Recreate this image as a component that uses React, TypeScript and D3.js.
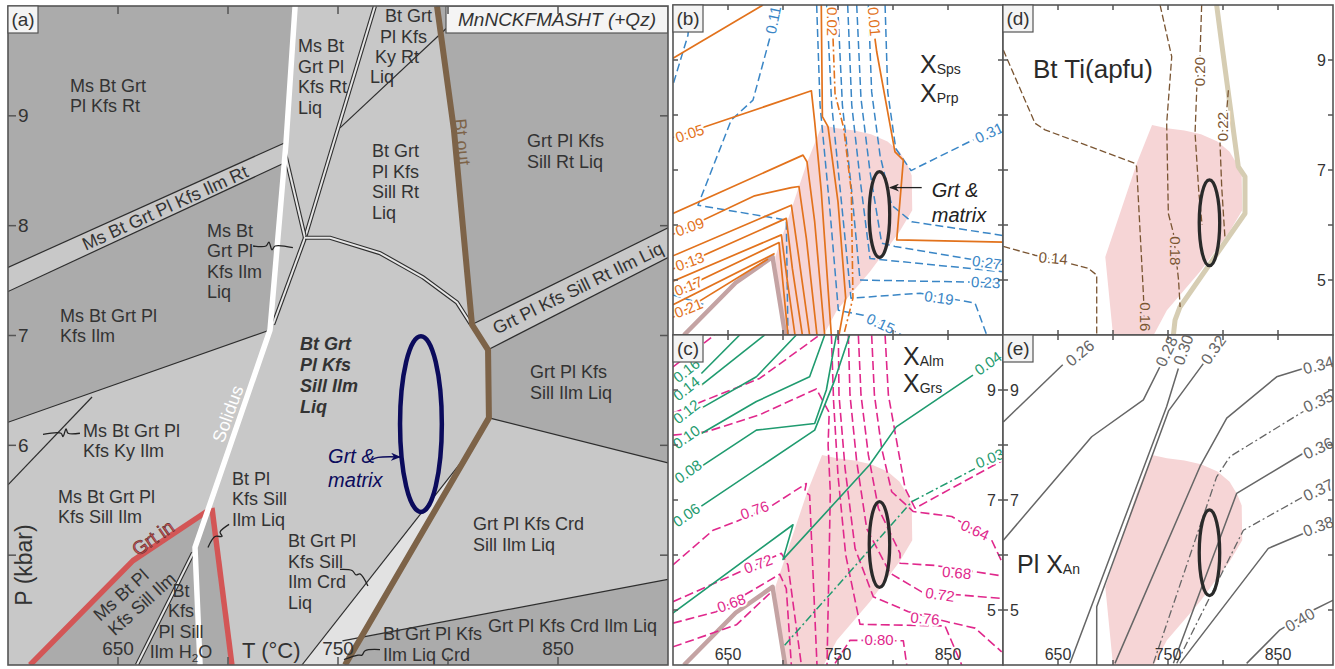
import React from "react";
import * as d3 from "d3";

type Pt = [number, number];
type Iso = { v: string; pts: Pt[]; lab?: [number, number, number] };
type Lbl = { lines: string[]; T: number; P: number };
type RLbl = { text: string; T: number; P: number; angle: number };

// ---------------- axes ----------------
const T_RANGE: [number, number] = [600, 900];
const P_RANGE: [number, number] = [4, 10];
const T_TICKS = [650, 700, 750, 800, 850];
const T_LABELS = [650, 750, 850];
const P_TICKS = [5, 6, 7, 8, 9];
const P_LABELS_A = [6, 7, 8, 9];
const P_LABELS_SMALL = [5, 7, 9];

// ---------------- panel (a): pseudosection ----------------
const solidus: Pt[] = [[730.5, 10], [726.4, 8.76], [719.1, 7.05], [685, 5.07], [687.3, 4.0]];
const grtInLow: Pt[] = [[610, 4.0], [656.8, 4.95], [690.5, 5.4]];
const grtInHigh: Pt[] = [[692.7, 5.43], [701.8, 4.0]];
const btOutA: Pt[] = [[795, 10], [802.7, 8.87], [810.9, 7.1], [818.2, 6.87], [818.6, 6.25], [753.2, 4.0]];
const darkFields: Pt[][] = [
  [[600, 10], [730.5, 10], [726.4, 8.76], [600, 7.62]],
  [[600, 7.4], [725.6, 8.57], [719.1, 7.05], [600, 6.21]],
  [[610, 4.0], [656.8, 4.95], [690.8, 5.4], [692.7, 5.43], [701.8, 4.0]],
  [[795, 10], [900, 10], [900, 7.98], [810.9, 7.1], [802.7, 8.87]],
  [[818.2, 6.87], [900, 7.71], [900, 5.84], [818.6, 6.25]],
  [[755, 4.23], [900, 4.78], [900, 4.0], [753.2, 4.0]],
];
const paleFields: Pt[][] = [[[733.6, 4.0], [808.5, 5.91], [753.2, 4.0]]];
const reactionLines: Pt[][] = [
  [[600, 7.62], [726.4, 8.76]],
  [[600, 7.4], [725.6, 8.57]],
  [[600, 6.21], [719.1, 7.05]],
  [[600, 5.64], [638.2, 6.44]],
  [[810.9, 7.1], [900, 7.98]],
  [[818.2, 6.87], [900, 7.71]],
  [[818.6, 6.25], [900, 5.84]],
  [[752, 4.22], [900, 4.78]],
  [[733.6, 4.0], [808.5, 5.91]],
  [[803.2, 9.87], [750.9, 8.89]],
];
const doubleLines: Pt[][] = [
  [[766.8, 10], [735, 7.89]],
  [[735, 7.89], [720.5, 7.1]],
  [[725.9, 8.66], [735, 7.89]],
  [[735, 7.89], [746.4, 7.89], [769.1, 7.75], [788.6, 7.53], [804.1, 7.3], [810.5, 7.1]],
  [[658.6, 4.0], [684.1, 5.02]],
];
const leadersA: Pt[][] = [
  [[711.4, 7.815], [717.3, 7.815], [718.6, 7.85], [720, 7.78], [721.4, 7.815], [729.5, 7.8]],
  [[632.7, 6.11], [627.3, 6.11], [626.4, 6.15], [625, 6.08], [624.1, 6.11], [615.9, 6.1]],
  [[700.5, 5.28], [696.4, 5.21], [697.3, 5.17], [694.1, 5.17], [690.9, 5.07]],
  [[750.9, 4.87], [756.4, 4.86], [758.2, 4.82], [760, 4.83], [763.6, 4.72]],
  [[769.1, 4.14], [762.3, 4.13], [760.9, 4.09], [759.1, 4.09], [752.7, 4.05]],
];
const arrowA: Pt[] = [[765.5, 5.87], [768.2, 5.89], [778.2, 5.894]];
const ellipseA = { T: 787.7, P: 6.194, rT: 9.5, rP: 0.8 };

const fieldLabelsA: Lbl[] = [
  { lines: ["Ms Bt Grt", "Pl Kfs Rt"], T: 628.2, P: 9.217 },
  { lines: ["Ms Bt", "Grt Pl", "Kfs Ilm", "Liq"], T: 690.5, P: 7.9 },
  { lines: ["Ms Bt Grt Pl", "Kfs Ilm"], T: 623.6, P: 7.123 },
  { lines: ["Ms Bt Grt Pl", "Kfs Ky Ilm"], T: 634.1, P: 6.08 },
  { lines: ["Ms Bt Grt Pl", "Kfs Sill Ilm"], T: 622.7, P: 5.475 },
  { lines: ["Bt Pl", "Kfs Sill", "Ilm Liq"], T: 701.8, P: 5.639 },
  { lines: ["Bt Grt Pl", "Kfs Sill", "Ilm Crd", "Liq"], T: 727.3, P: 5.074 },
  { lines: ["Grt Pl Kfs", "Sill Ilm Liq"], T: 837.3, P: 6.613 },
  { lines: ["Grt Pl Kfs Crd", "Sill Ilm Liq"], T: 811.4, P: 5.229 },
  { lines: ["Grt Pl Kfs Crd Ilm Liq"], T: 818.2, P: 4.3 },
  { lines: ["Bt Grt Pl Kfs", "Ilm Liq Crd"], T: 770.5, P: 4.227 },
  { lines: ["Grt Pl Kfs", "Sill Rt Liq"], T: 835.9, P: 8.716 },
  { lines: ["Bt Grt", "Pl Kfs", "Sill Rt", "Liq"], T: 765.5, P: 8.625 },
  { lines: ["Ms Bt", "Grt Pl", "Kfs Rt", "Liq"], T: 731.8, P: 9.58 },
  { lines: ["Bt Grt"], T: 771.4, P: 9.854 },
  { lines: ["Pl Kfs"], T: 769.1, P: 9.663 },
  { lines: ["Ky Rt"], T: 766.8, P: 9.481 },
  { lines: ["Liq"], T: 764.5, P: 9.3 },
];
const boldLabelA: Lbl = { lines: ["Bt Grt", "Pl Kfs", "Sill Ilm", "Liq"], T: 732.7, P: 6.868 };
const midLabelA: Lbl = { lines: ["Bt", "Kfs", "Pl Sill", "Ilm H_2O"], T: 678.6, P: 4.619 };
const matrixLabelA: Lbl = { lines: ["Grt &", "matrix"], T: 745.5, P: 5.839 };
const rotLabelsA: RLbl[] = [
  { text: "Ms Bt Grt Pl Kfs Ilm Rt", T: 671.4, P: 8.16, angle: -24.5 },
  { text: "Grt Pl Kfs Sill Rt Ilm Liq", T: 859.1, P: 7.43, angle: -26 },
  { text: "Ms Bt Pl", T: 651.4, P: 4.637, angle: -42 },
  { text: "Kfs Sill Ilm", T: 660.9, P: 4.555, angle: -42 },
];
const solidusLabel: RLbl = { text: "Solidus", T: 700, P: 6.285, angle: -70 };
const grtInLabel: RLbl = { text: "Grt in", T: 665.9, P: 5.156, angle: -35 };
const btOutLabel: RLbl = { text: "Bt out", T: 806.4, P: 8.762, angle: 84 };

// ---------------- common small-panel features ----------------
const pinkField: Pt[] = [
  [700, 4.0], [693, 5.42], [721.8, 7.13], [735.5, 7.82], [749, 7.76], [765, 7.72], [780, 7.65],
  [795, 7.52], [806, 7.33], [813, 7.1], [817, 6.9], [817.5, 6.27], [806, 5.88], [779, 5.15],
  [749, 4.45], [737, 4.0],
];
const grtInSmall: Pt[] = [[610, 4.0], [657, 4.95], [690.5, 5.42], [702, 4.0]];
const ellipseUpper = { T: 787.7, P: 6.19, rT: 9.3, rP: 0.78 };
const ellipseLower = { T: 787.7, P: 6.04, rT: 9.3, rP: 0.78 };

// ---------------- panel (b): X Sps (solid / dash-dot) and X Prp (dashed) ----------------
const spsIso: Iso[] = [
  { v: "", pts: [[600, 9.03], [681.8, 10]] },
  { v: "0.05", pts: [[600, 7.59], [725.8, 8.44], [728.8, 7.88], [734.8, 6.61], [743.9, 4.0]], lab: [615.2, 7.67, -18] },
  { v: "", pts: [[600, 6.21], [718.2, 7.27], [721.8, 7.15], [728.8, 6.06], [737.9, 4.0]] },
  { v: "0.09", pts: [[600, 5.83], [674.2, 6.53], [707.6, 6.68], [714.5, 6.7], [721.2, 5.76], [730.9, 4.0]], lab: [615.2, 5.97, -20] },
  { v: "", pts: [[600, 5.44], [707.6, 6.36], [713.6, 5.52], [724.2, 4.0]] },
  { v: "0.13", pts: [[600, 5.2], [703, 6.12], [708.5, 5.21], [717.6, 4.0]], lab: [615.2, 5.34, -20] },
  { v: "", pts: [[600, 4.98], [698.5, 5.82], [703.6, 5.03], [710.9, 4.0]] },
  { v: "0.17", pts: [[600, 4.76], [696.4, 5.68], [704.5, 4.0]], lab: [614, 4.89, -22] },
  { v: "", pts: [[600, 4.55], [692.4, 5.48]] },
  { v: "0.21", pts: [[600, 4.32], [686.4, 5.38]], lab: [614, 4.49, -22] },
  { v: "", pts: [[734.8, 10], [735.8, 7.97], [740.9, 7.79], [750, 6.42], [757, 4.67], [750.9, 4.0]] },
  { v: "0.01", pts: [[783.6, 9.39], [785.2, 9.15], [801.8, 7.33], [809.4, 7.18], [803.4, 5.73], [900, 5.69]], lab: [783.1, 9.7, 85] },
];
const spsDashDot: Iso[] = [
  { v: "0.02", pts: [[745.5, 9.39], [747.3, 8.39], [755.2, 7.76], [762.1, 6.61], [763.6, 4.67], [755.2, 4.0]], lab: [744.8, 9.7, 90] },
];
const prpIso: Iso[] = [
  { v: "", pts: [[615.8, 10], [613.6, 9.45], [600, 8.55]] },
  { v: "0.11", pts: [[687.9, 9.39], [672.7, 8.27], [653, 7.91], [622.7, 6.36], [703, 6.09], [704.5, 4.0]], lab: [690.9, 9.73, -78] },
  { v: "", pts: [[600, 4.73], [628.8, 4.55]] },
  { v: "0.31", pts: [[792.8, 10], [795.2, 8.42], [802.5, 7.39], [816.4, 6.99], [873.1, 7.55]], lab: [887.3, 7.68, -25] },
  { v: "", pts: [[777.6, 10], [780.6, 8.42], [788.2, 7.27], [798.8, 6.36], [817, 6.06], [900, 5.81]] },
  { v: "0.27", pts: [[767, 10], [770.9, 8.3], [779.1, 6.97], [789.7, 5.67], [801.8, 5.61], [900, 5.28]], lab: [885.2, 5.32, 8] },
  { v: "", pts: [[758.8, 10], [762.5, 8.18], [770, 6.85], [779.1, 5.39], [900, 5.15]] },
  { v: "0.23", pts: [[749.7, 10], [754, 8.18], [762.5, 6.61], [770, 5.0], [900, 4.95]], lab: [884.3, 4.96, 3] },
  { v: "0.19", pts: [[739.7, 10], [744.3, 8.18], [753.4, 6.36], [761.8, 4.67], [824.6, 4.76], [874.6, 4.58], [885.2, 4.0]], lab: [841.8, 4.68, 8] },
  { v: "0.15", pts: [[730.6, 10], [733.7, 8.18], [742.8, 6.24], [750.3, 4.45], [773, 4.36], [807.9, 4.0]], lab: [788.8, 4.21, 25] },
];
const arrowB: Pt[] = [[826.1, 6.68], [797.3, 6.68]];
const matrixLabelB: Lbl = { lines: ["Grt &", "matrix"], T: 835.2, P: 6.515 };

// ---------------- panel (c): X Alm (dashed) and X Grs (solid / dash-dot) ----------------
const grsIso: Iso[] = [
  { v: "0.16", pts: [[625.8, 9.3], [660.6, 10.0]], lab: [612.1, 9.36, -38] },
  { v: "0.14", pts: [[625.8, 9.09], [683.3, 10.0]], lab: [612.1, 9.03, -38] },
  { v: "0.12", pts: [[625.8, 8.67], [675.8, 9.24], [712.1, 10.0]], lab: [612.1, 8.61, -38] },
  { v: "0.10", pts: [[625.8, 8.21], [675.8, 8.79], [724.2, 9.24], [737.9, 10.0]], lab: [612.1, 8.15, -35] },
  { v: "0.08", pts: [[625.8, 7.61], [675.8, 8.27], [728.8, 8.39], [739.4, 9.0], [748.5, 10.0]], lab: [613.6, 7.52, -35] },
  { v: "0.06", pts: [[625.8, 6.89], [728.8, 8.27], [747, 9.18], [760.6, 10.0]], lab: [612.1, 6.73, -35] },
  { v: "0.04", pts: [[595.5, 4.88], [709.1, 6.55], [700, 5.92], [778.8, 7.64], [803, 8.33], [872.7, 9.27]], lab: [886.4, 9.49, -35] },
];
const grsDashDot: Iso[] = [
  { v: "0.03", pts: [[701.5, 4.36], [747.3, 5.39], [817, 6.97], [874.5, 7.57]], lab: [887.9, 7.76, -22] },
];
const almIso: Iso[] = [
  { v: "", pts: [[600, 9.42], [637.9, 10]] },
  { v: "", pts: [[600, 8.58], [678.8, 9.21], [733.3, 10.0]] },
  { v: "", pts: [[600, 8.18], [630.3, 8.24], [678.8, 8.55], [730.3, 9.02], [742, 8.59], [741, 8.0], [743, 7.15], [742, 6.0], [740, 4.0]] },
  { v: "0.76", pts: [[600, 5.82], [636.4, 6.45], [657.6, 6.61], [690.9, 6.91], [721.2, 7.3], [719.7, 7.15], [724.2, 7.09], [730.9, 4.0]], lab: [674.2, 6.82, -20] },
  { v: "0.72", pts: [[600, 5.15], [698.5, 6.03], [704.5, 5.82], [716.7, 4.0]], lab: [677.3, 5.84, -20] },
  { v: "0.68", pts: [[600, 4.76], [639.4, 4.97], [697, 5.65], [703, 5.39], [707.6, 4.0]], lab: [653, 5.13, -20] },
  { v: "", pts: [[600, 4.33], [657.6, 4.73], [687.9, 5.3]] },
  { v: "", pts: [[792.8, 10], [795.8, 8.91], [803.4, 8.06], [811, 7.21], [820, 6.85], [898.8, 7.71]] },
  { v: "0.64", pts: [[780.6, 10], [783.1, 8.91], [789.7, 7.94], [798.8, 7.15], [818.5, 6.79], [853.4, 6.7], [889.7, 6.27], [900.3, 5.82]], lab: [874.6, 6.455, 25] },
  { v: "0.68", pts: [[768.5, 10], [770.9, 8.91], [777.6, 7.82], [786.7, 6.85], [806.4, 6.03], [806.4, 5.85], [838.2, 5.81], [898.8, 5.62]], lab: [857.9, 5.68, 5] },
  { v: "0.72", pts: [[759.4, 10], [760.9, 8.91], [767, 7.7], [776.1, 6.48], [797.3, 5.67], [826.1, 5.33], [898.8, 5.21]], lab: [842.8, 5.285, 8] },
  { v: "0.76", pts: [[750.3, 10], [750.9, 8.91], [756.4, 7.58], [765.5, 6.12], [782.1, 5.24], [814, 4.97], [850.3, 4.78], [874.6, 4.67], [898.8, 4.24]], lab: [829.1, 4.85, 5] },
  { v: "", pts: [[744, 10], [746, 8.79], [750, 7.45], [757, 6.0], [770, 4.74], [847.3, 4.71], [862.5, 4.0]] },
  { v: "0.80", pts: [[747.3, 4.03], [760.9, 4.45], [809.4, 4.44], [812.5, 4.0]], lab: [787.3, 4.47, 0] },
];

// ---------------- panel (d): Bt Ti (apfu) ----------------
const btTiIso: Iso[] = [
  { v: "0.14", pts: [[600.3, 5.61], [629.1, 5.45], [660.9, 5.3], [677.6, 5.21], [685.2, 5.09], [685.2, 4.0]], lab: [645.8, 5.4, 5] },
  { v: "0.16", pts: [[600.3, 9.18], [629.1, 7.85], [638.2, 7.73], [720, 7.12], [721.5, 7.06], [727.6, 4.76], [729.1, 4.0]], lab: [729.1, 4.33, 90] },
  { v: "0.18", pts: [[742.8, 10], [753.4, 9.06], [748.8, 7.85], [750.3, 6.21], [754.9, 5.85], [759.6, 5.0], [761, 4.51]], lab: [757, 5.53, 90] },
  { v: "0.20", pts: [[780.6, 10], [779.1, 9.09], [776.1, 8.45], [774.6, 7.67], [778, 6.6], [781, 6.0]], lab: [778.2, 8.79, -90] },
  { v: "0.22", pts: [[804.9, 8.45], [803.4, 8.09], [797.3, 7.48], [798.8, 6.7], [801.8, 5.76]], lab: [799.7, 7.79, -90] },
];
const btOutD: Pt[] = [[794.2, 10], [798.8, 9.3], [813.9, 7.06], [820, 6.88], [820, 6.21], [760.9, 4.51], [756.4, 4.27], [754.9, 4.0]];

// ---------------- panel (e): Pl X An ----------------
const anIso: Iso[] = [
  { v: "0.26", pts: [[600.3, 8.42], [654.3, 9.46]], lab: [670, 9.67, -40] },
  { v: "0.28", pts: [[600.3, 6.27], [680.6, 8.15], [727.6, 8.82], [745.8, 9.55]], lab: [748.8, 9.7, -65] },
  { v: "0.30", pts: [[759.4, 9.39], [748.8, 8.7], [660.9, 4.03]], lab: [764, 9.73, -70] },
  { v: "0.32", pts: [[782.1, 9.48], [750.5, 8.62], [685.2, 5.06], [685.2, 4.0]], lab: [791.2, 9.73, -55] },
  { v: "0.34", pts: [[701.8, 4.03], [779.1, 7.61], [803.4, 8.49], [848.8, 9.24], [873.1, 9.39]], lab: [886.7, 9.45, -15] },
  { v: "0.36", pts: [[754.9, 4.03], [812.4, 7.12], [873.1, 7.85]], lab: [886.7, 7.94, -25] },
  { v: "0.38", pts: [[760.9, 4.03], [841.2, 6.12], [873.1, 6.39]], lab: [886.7, 6.52, -20] },
  { v: "0.40", pts: [[821.5, 4.03], [851.8, 4.64], [882.1, 5.0], [900.3, 5.18]], lab: [870, 4.82, -30] },
];
const anDashDot: Iso[] = [
  { v: "0.35", pts: [[736.7, 4.03], [794.2, 7.42], [806.4, 7.79], [873.1, 8.61]], lab: [886.7, 8.79, -25] },
  { v: "0.37", pts: [[757.9, 4.03], [818.5, 6.45], [873.1, 7.06]], lab: [886.7, 7.18, -25] },
];

// ---------------- styles ----------------
const FONT = "'Liberation Sans', Arial, Helvetica, sans-serif";
const TXT = "#333";
const FRAME = "#555";
const DARK = "#ababab";
const LIGHT = "#c8c8c8";
const PALE = "#e2e2e2";
const ORANGE = "#e2721c";
const BLUE = "#3a86c6";
const MAGENTA = "#e0288c";
const GREEN = "#1f9b6f";
const BROWN = "#7a5532";
const GRAYL = "#666";
const PINK = "#f6d5d6";
const NAVY = "#0b0b5c";

type Sc = d3.ScaleLinear<number, number>;

function renderLine(text: string, key: number, x: number, dy: number) {
  if (text.includes("_")) {
    const [a, rest] = text.split("_");
    return (
      <tspan key={key} x={x} dy={dy}>
        {a}
        <tspan fontSize="0.65em" dy={4}>{rest[0]}</tspan>
        <tspan dy={-4}>{rest.slice(1)}</tspan>
      </tspan>
    );
  }
  return (
    <tspan key={key} x={x} dy={dy}>
      {text}
    </tspan>
  );
}

function multi(l: Lbl, x: Sc, y: Sc, spacing: number, props: any, key?: any) {
  const px = x(l.T);
  const py = y(l.P);
  return (
    <text key={key} x={px} y={py} fontFamily={FONT} {...props}>
      {l.lines.map((s, i) => renderLine(s, i, px, i === 0 ? 0 : spacing))}
    </text>
  );
}

function rot(l: RLbl, x: Sc, y: Sc, props: any, key?: any) {
  const px = x(l.T);
  const py = y(l.P);
  return (
    <text key={key} x={px} y={py} transform={`rotate(${l.angle} ${px} ${py})`} textAnchor="middle"
      dominantBaseline="central" fontFamily={FONT} {...props}>
      {l.text}
    </text>
  );
}

function isoPaths(isos: Iso[], x: Sc, y: Sc, color: string, width: number, dash?: string) {
  const line = d3.line<Pt>().x((d) => x(d[0])).y((d) => y(d[1]));
  return isos.map((s, i) => (
    <path key={i} d={line(s.pts) || ""} fill="none" stroke={color} strokeWidth={width}
      strokeDasharray={dash} strokeLinejoin="round" />
  ));
}

function isoLabels(isos: Iso[], x: Sc, y: Sc, color: string, fs = 15) {
  return isos
    .filter((s) => s.lab)
    .map((s, i) => {
      const lab = s.lab as [number, number, number];
      const cx = x(lab[0]);
      const cy = y(lab[1]);
      const halo = d3.polygonContains(pinkField, [lab[0], lab[1]]) ? PINK : "#fff";
      return (
        <text key={i} x={cx} y={cy} transform={`rotate(${lab[2]} ${cx} ${cy})`} textAnchor="middle"
          dominantBaseline="central" fontSize={fs} fill={color} stroke={halo} strokeWidth={4}
          style={{ paintOrder: "stroke" }} fontFamily={FONT}>
          {s.v}
        </text>
      );
    });
}

function frameTicks(x: Sc, y: Sc, len: number, key: string) {
  const [x0, x1] = x.range();
  const [y1, y0] = y.range();
  const out: React.ReactNode[] = [];
  T_TICKS.forEach((t) => {
    out.push(<line key={key + "tb" + t} x1={x(t)} x2={x(t)} y1={y1} y2={y1 - len} stroke={FRAME} strokeWidth={1.5} />);
    out.push(<line key={key + "tt" + t} x1={x(t)} x2={x(t)} y1={y0} y2={y0 + len} stroke={FRAME} strokeWidth={1.5} />);
  });
  P_TICKS.forEach((p) => {
    out.push(<line key={key + "pl" + p} x1={x0} x2={x0 + len} y1={y(p)} y2={y(p)} stroke={FRAME} strokeWidth={1.5} />);
    out.push(<line key={key + "pr" + p} x1={x1} x2={x1 - len} y1={y(p)} y2={y(p)} stroke={FRAME} strokeWidth={1.5} />);
  });
  out.push(<rect key={key + "fr"} x={x0} y={y0} width={x1 - x0} height={y1 - y0} fill="none" stroke={FRAME} strokeWidth={1.6} />);
  return out;
}

function panelTag(label: string, x0: number, y0: number) {
  return (
    <g>
      <rect x={x0} y={y0} width={30} height={27} fill="#f4f4f4" stroke={FRAME} strokeWidth={1.2} />
      <text x={x0 + 15} y={y0 + 20} textAnchor="middle" fontSize={19} fill={TXT} fontFamily={FONT}>{label}</text>
    </g>
  );
}

function Ell({ e, x, y, stroke, width }: any) {
  return (
    <ellipse cx={x(e.T)} cy={y(e.P)} rx={Math.abs(x(e.T + e.rT) - x(e.T))} ry={Math.abs(y(e.P + e.rP) - y(e.P))}
      fill="none" stroke={stroke} strokeWidth={width} />
  );
}

export default function App() {
  const xa = d3.scaleLinear().domain(T_RANGE).range([8, 668]);
  const ya = d3.scaleLinear().domain(P_RANGE).range([665, 6]);
  const la = d3.line<Pt>().x((d) => xa(d[0])).y((d) => ya(d[1]));
  const laSmooth = d3.line<Pt>().x((d) => xa(d[0])).y((d) => ya(d[1])).curve(d3.curveCatmullRom);

  const small = (x0: number, y0: number) => {
    const x = d3.scaleLinear().domain(T_RANGE).range([x0, x0 + 330]);
    const y = d3.scaleLinear().domain(P_RANGE).range([y0 + 330, y0]);
    const line = d3.line<Pt>().x((d) => x(d[0])).y((d) => y(d[1]));
    return { x, y, line };
  };
  const B = small(673, 5);
  const C = small(673, 335);
  const D = small(1003, 5);
  const E = small(1003, 335);

  const smallBase = (S: any, grtIn: boolean) => (
    <g>
      <rect x={S.x(600)} y={S.y(10)} width={330} height={330} fill="#fff" />
      <path d={(S.line(pinkField) || "") + "Z"} fill={PINK} />
      {grtIn && <path d={S.line(grtInSmall) || ""} fill="none" stroke="#c4a3a3" strokeWidth={4.5} strokeLinejoin="round" />}
    </g>
  );

  const xText = (S: any, T: number, P: number, sub: string, key: string, fs = 25) => (
    <text key={key} x={S.x(T)} y={S.y(P)} fontSize={fs} fill="#2a2a2a" fontFamily={FONT}>
      X<tspan fontSize={14} dy={1}>{sub}</tspan>
    </text>
  );

  return (
    <svg width={1335} height={669} style={{ position: "absolute", left: 0, top: 0, background: "#fff" }}
      fontFamily={FONT}>
      <defs>
        <clipPath id="clipA"><rect x={8} y={6} width={660} height={659} /></clipPath>
        <clipPath id="clipB"><rect x={673} y={5} width={330} height={330} /></clipPath>
        <clipPath id="clipC"><rect x={673} y={335} width={330} height={330} /></clipPath>
        <clipPath id="clipD"><rect x={1003} y={5} width={330} height={330} /></clipPath>
        <clipPath id="clipE"><rect x={1003} y={335} width={330} height={330} /></clipPath>
        <marker id="arrNavy" markerWidth={10} markerHeight={8} refX={9} refY={4} orient="auto" markerUnits="userSpaceOnUse">
          <path d="M0,0 L10,4 L0,8 L3,4 Z" fill={NAVY} />
        </marker>
        <marker id="arrBlack" markerWidth={10} markerHeight={8} refX={9} refY={4} orient="auto" markerUnits="userSpaceOnUse">
          <path d="M0,0 L10,4 L0,8 L3,4 Z" fill="#222" />
        </marker>
      </defs>

      {/* ================= Panel (a) ================= */}
      <g clipPath="url(#clipA)">
        <rect x={8} y={6} width={660} height={659} fill={LIGHT} />
        {darkFields.map((f, i) => <path key={i} d={(la(f) || "") + "Z"} fill={DARK} />)}
        {paleFields.map((f, i) => <path key={i} d={(la(f) || "") + "Z"} fill={PALE} />)}
        {reactionLines.map((l, i) => <path key={i} d={la(l) || ""} fill="none" stroke="#2e2e2e" strokeWidth={1.2} />)}
        {doubleLines.map((l, i) => (
          <g key={i}>
            <path d={la(l) || ""} fill="none" stroke="#2e2e2e" strokeWidth={4.2} />
            <path d={la(l) || ""} fill="none" stroke="#e6e6e6" strokeWidth={2} />
          </g>
        ))}
        <path d={la(grtInLow) || ""} fill="none" stroke="#d35656" strokeWidth={5.5} strokeLinejoin="round" />
        <path d={la(grtInHigh) || ""} fill="none" stroke="#d35656" strokeWidth={5.5} />
        <path d={la(btOutA) || ""} fill="none" stroke="#7d6348" strokeWidth={6} strokeLinejoin="round" />
        <path d={la(solidus) || ""} fill="none" stroke="#fff" strokeWidth={5.5} strokeLinejoin="round" />
        <Ell e={ellipseA} x={xa} y={ya} stroke={NAVY} width={4.5} />
        {leadersA.map((l, i) => <path key={i} d={laSmooth(l) || ""} fill="none" stroke="#222" strokeWidth={1.3} />)}
        <path d={laSmooth(arrowA) || ""} fill="none" stroke={NAVY} strokeWidth={1.4} markerEnd="url(#arrNavy)" />

        {fieldLabelsA.map((l, i) => multi(l, xa, ya, 20.5, { fontSize: 18, fill: TXT }, "fl" + i))}
        {multi(boldLabelA, xa, ya, 21, { fontSize: 18, fill: TXT, fontWeight: "bold", fontStyle: "italic" })}
        {multi(midLabelA, xa, ya, 20.3, { fontSize: 18, fill: TXT, textAnchor: "middle" })}
        {multi(matrixLabelA, xa, ya, 24, { fontSize: 20, fill: NAVY, fontStyle: "italic" })}
        {rotLabelsA.map((l, i) => rot(l, xa, ya, { fontSize: 18, fill: TXT }, "rl" + i))}
        {rot(solidusLabel, xa, ya, { fontSize: 18, fill: "#fff" })}
        {rot(grtInLabel, xa, ya, { fontSize: 19, fill: "#d35656", stroke: "#5a2a2a", strokeWidth: 0.6 })}
        {rot(btOutLabel, xa, ya, { fontSize: 18, fill: "#7d6348" })}

        {T_LABELS.map((t) => (
          <text key={t} x={xa(t)} y={655} textAnchor="middle" fontSize={19} fill={TXT}>{t}</text>
        ))}
        {P_LABELS_A.map((p) => (
          <text key={p} x={18} y={ya(p)} dominantBaseline="central" fontSize={19} fill={TXT}>{p}</text>
        ))}
        <text x={242} y={658} fontSize={22} fill={TXT}>T (°C)</text>
        <text transform="translate(32,565) rotate(-90)" textAnchor="middle" fontSize={23} fill={TXT}>P (kbar)</text>
        <rect x={446} y={6} width={222} height={27} fill="#f4f4f4" stroke={FRAME} strokeWidth={1.2} />
        <text x={557} y={26} textAnchor="middle" fontSize={19} fontStyle="italic" fill={TXT}>MnNCKFMASHT (+Qz)</text>
      </g>
      {frameTicks(xa, ya, 8, "a")}
      {panelTag("(a)", 8, 6)}

      {/* ================= Panel (b) ================= */}
      <g clipPath="url(#clipB)">
        {smallBase(B, true)}
        {isoPaths(prpIso, B.x, B.y, BLUE, 1.5, "8 4")}
        {isoPaths(spsIso, B.x, B.y, ORANGE, 1.7)}
        {isoPaths(spsDashDot, B.x, B.y, ORANGE, 1.6, "8 3 2 3")}
        <Ell e={ellipseUpper} x={B.x} y={B.y} stroke="#2a2a2a" width={3.3} />
        <path d={B.line(arrowB) || ""} fill="none" stroke="#222" strokeWidth={1.3} markerEnd="url(#arrBlack)" />
        {isoLabels(prpIso, B.x, B.y, BLUE)}
        {isoLabels(spsIso, B.x, B.y, ORANGE)}
        {isoLabels(spsDashDot, B.x, B.y, ORANGE)}
        {multi(matrixLabelB, B.x, B.y, 25, { fontSize: 20, fill: "#222", fontStyle: "italic" })}
        {xText(B, 824.5, 8.76, "Sps", "xs")}
        {xText(B, 824.5, 8.24, "Prp", "xp")}
      </g>
      {frameTicks(B.x, B.y, 5, "b")}
      {panelTag("(b)", 673, 5)}

      {/* ================= Panel (c) ================= */}
      <g clipPath="url(#clipC)">
        {smallBase(C, true)}
        {isoPaths(almIso, C.x, C.y, MAGENTA, 1.6, "9 4")}
        {isoPaths(grsIso, C.x, C.y, GREEN, 1.6)}
        {isoPaths(grsDashDot, C.x, C.y, GREEN, 1.5, "8 3 2 3")}
        <Ell e={ellipseUpper} x={C.x} y={C.y} stroke="#2a2a2a" width={3.3} />
        {isoLabels(almIso, C.x, C.y, MAGENTA)}
        {isoLabels(grsIso, C.x, C.y, GREEN)}
        {isoLabels(grsDashDot, C.x, C.y, GREEN)}
        {xText(C, 809.1, 9.45, "Alm", "xa")}
        {xText(C, 809.1, 8.96, "Grs", "xg")}
        {T_LABELS.map((t) => (
          <text key={t} x={C.x(t)} y={660} textAnchor="middle" fontSize={16} fill={TXT}>{t}</text>
        ))}
        {P_LABELS_SMALL.map((p) => (
          <text key={p} x={996} y={C.y(p)} textAnchor="end" dominantBaseline="central" fontSize={16} fill={TXT}>{p}</text>
        ))}
      </g>
      {frameTicks(C.x, C.y, 5, "c")}
      {panelTag("(c)", 673, 335)}

      {/* ================= Panel (d) ================= */}
      <g clipPath="url(#clipD)">
        {smallBase(D, false)}
        <path d={D.line(btOutD) || ""} fill="none" stroke="#d6cdb3" strokeWidth={5} strokeLinejoin="round" />
        {isoPaths(btTiIso, D.x, D.y, BROWN, 1.3, "7 3")}
        <Ell e={ellipseLower} x={D.x} y={D.y} stroke="#2a2a2a" width={3.3} />
        {isoLabels(btTiIso, D.x, D.y, BROWN, 15)}
        <text x={D.x(627.3)} y={D.y(8.67)} fontSize={26} fill="#2a2a2a">Bt Ti(apfu)</text>
        {P_LABELS_SMALL.map((p) => (
          <text key={p} x={1326} y={D.y(p)} textAnchor="end" dominantBaseline="central" fontSize={16} fill={TXT}>{p}</text>
        ))}
      </g>
      {frameTicks(D.x, D.y, 5, "d")}
      {panelTag("(d)", 1003, 5)}

      {/* ================= Panel (e) ================= */}
      <g clipPath="url(#clipE)">
        {smallBase(E, false)}
        {isoPaths(anIso, E.x, E.y, GRAYL, 1.5)}
        {isoPaths(anDashDot, E.x, E.y, GRAYL, 1.3, "8 3 2 3")}
        <Ell e={ellipseLower} x={E.x} y={E.y} stroke="#2a2a2a" width={3.3} />
        {isoLabels(anIso, E.x, E.y, GRAYL, 16)}
        {isoLabels(anDashDot, E.x, E.y, GRAYL, 16)}
        <text x={E.x(612.7)} y={E.y(5.67)} fontSize={25} fill="#2a2a2a">
          Pl X<tspan fontSize={14} dy={1}>An</tspan>
        </text>
        {T_LABELS.map((t) => (
          <text key={t} x={E.x(t)} y={660} textAnchor="middle" fontSize={16} fill={TXT}>{t}</text>
        ))}
        {P_LABELS_SMALL.map((p) => (
          <text key={p} x={1010} y={E.y(p)} dominantBaseline="central" fontSize={16} fill={TXT}>{p}</text>
        ))}
      </g>
      {frameTicks(E.x, E.y, 5, "e")}
      {panelTag("(e)", 1003, 335)}
    </svg>
  );
}
